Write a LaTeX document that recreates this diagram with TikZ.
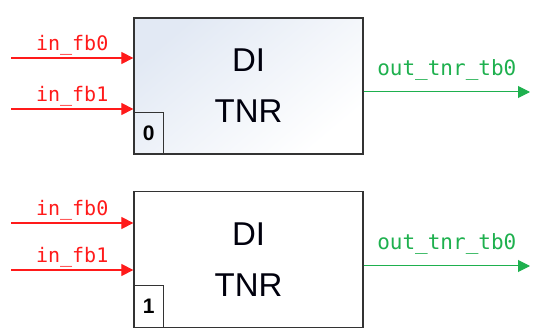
\documentclass[tikz,border=0pt]{standalone}
\usepackage{fontspec}
\setmainfont{Liberation Sans}
\newfontfamily\labfont{DejaVu Sans Mono}
\usetikzlibrary{arrows.meta,positioning}
\definecolor{inred}{HTML}{FF1A1A}
\definecolor{outgreen}{HTML}{1EB04E}
\definecolor{blkline}{HTML}{333333}
\definecolor{blkshade}{HTML}{E2E9F4}
\tikzset{
  tnrblk/.style={draw=blkline,line width=1.3pt,minimum width=229pt,minimum height=136pt,
    align=center,font=\fontsize{33}{51}\selectfont,text=black!95!blue,inner sep=0},
  idxbox/.style={draw=blkline,line width=0.8pt,minimum width=30pt,minimum height=42pt,
    inner sep=0,font=\fontsize{21}{21}\selectfont\bfseries},
  inarr/.style={draw=inred,line width=1.2pt,-{Triangle[length=12pt,width=12pt]}},
  outarr/.style={draw=outgreen,line width=1pt,-{Triangle[length=12pt,width=12pt]}},
  inlab/.style={text=inred,font=\labfont\fontsize{20}{20}\selectfont,inner sep=2pt},
  outlab/.style={text=outgreen,font=\labfont\fontsize{21}{21}\selectfont,inner sep=2pt}
}
\begin{document}
\begin{tikzpicture}[x=1pt,y=-1pt]
\useasboundingbox (0,0) rectangle (550,334);
% top block
\node[tnrblk,top color=blkshade,bottom color=white,shading angle=40] (tnr0) at (248.5,86) {DI\\TNR};
\node[idxbox,anchor=south west] (idx0) at (tnr0.south west) {0};
\coordinate (f00) at (11,58);
\coordinate (f01) at (11,109);
\coordinate (o0) at (530,92);
\draw[inarr] (f00)--(f00-|tnr0.west)node[midway,above,inlab]{in\_fb0};
\draw[inarr] (f01)--(f01-|tnr0.west)node[midway,above,inlab]{in\_fb1};
\draw[outarr] (o0-|tnr0.east)--(o0)node[midway,above=9pt,outlab]{out\_tnr\_tb0};
% bottom block
\node[tnrblk,fill=white] (tnr1) at (248.5,259.5) {DI\\TNR};
\node[idxbox,anchor=south west] (idx1) at (tnr1.south west) {1};
\coordinate (f10) at (11,223);
\coordinate (f11) at (11,270);
\coordinate (o1) at (530,266);
\draw[inarr] (f10)--(f10-|tnr1.west)node[midway,above,inlab]{in\_fb0};
\draw[inarr] (f11)--(f11-|tnr1.west)node[midway,above,inlab]{in\_fb1};
\draw[outarr] (o1-|tnr1.east)--(o1)node[midway,above=9pt,outlab]{out\_tnr\_tb0};
\end{tikzpicture}
\end{document}
